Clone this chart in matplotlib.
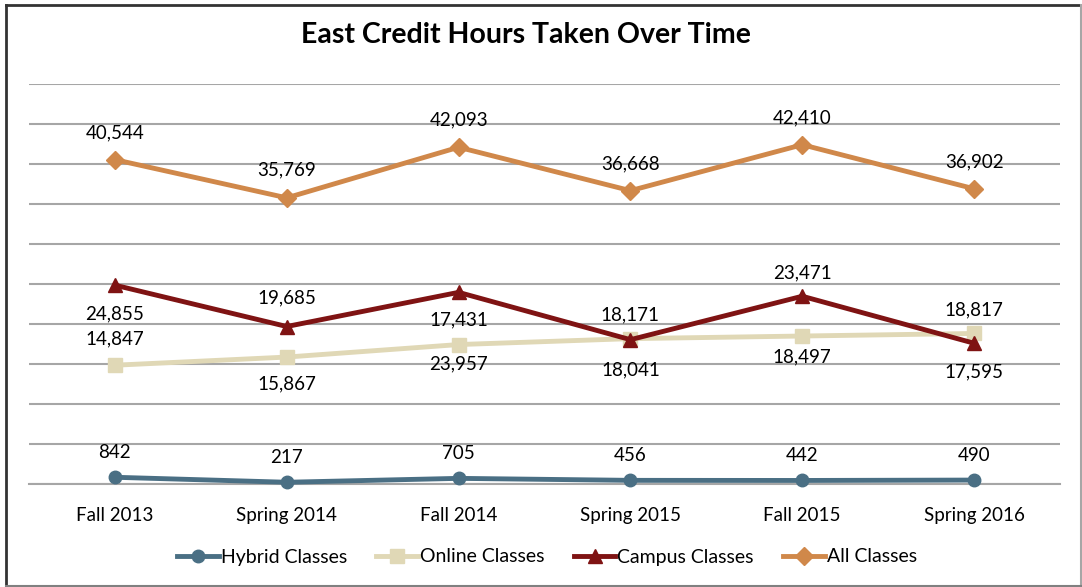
import matplotlib
matplotlib.use("Agg")
import matplotlib.pyplot as plt
from matplotlib.lines import Line2D

categories = ["Fall 2013", "Spring 2014", "Fall 2014", "Spring 2015", "Fall 2015", "Spring 2016"]
hybrid = [842, 217, 705, 456, 442, 490]
online = [14847, 15867, 17431, 18171, 18497, 18817]
campus = [24855, 19685, 23957, 18041, 23471, 17595]
all_classes = [40544, 35769, 42093, 36668, 42410, 36902]

# label offsets in pixels (vertical)
off_hybrid = [25, 25, 25, 25, 25, 25]
off_online = [26, -27, 25, 24, -21, 24]
off_campus = [-29, 29, -72, -30, 23, -29]
off_all = [27, 28, 27, 27, 27, 27]

W, H = 1082, 587
fig = plt.figure(figsize=(W / 100, H / 100), dpi=100)
FONT = "Lato"
plt.rcParams['font.family'] = [FONT, 'DejaVu Sans']

left, right = 29 / W, 1060 / W
bottom, top = 1 - 484 / H, 1 - 84 / H
ax = fig.add_axes([left, bottom, right - left, top - bottom])
x = list(range(len(categories)))

ax.set_xlim(-0.5, 5.5)
ax.set_ylim(0, 50000)
ax.set_yticks(range(0, 50001, 5000))
ax.yaxis.grid(True, color="#a6a6a6", linewidth=1.5)
ax.set_axisbelow(True)
for s in ["left", "right", "top"]:
    ax.spines[s].set_visible(False)
ax.spines["bottom"].set_color("#a6a6a6")
ax.spines["bottom"].set_linewidth(1.5)
ax.tick_params(axis="y", left=False, labelleft=False)
ax.tick_params(axis="x", bottom=False, pad=13, labelsize=13.5, labelcolor="#000000")
ax.set_xticks(x)
ax.set_xticklabels(categories)

series = [
    ("Hybrid Classes", hybrid, "#4a6f84", "o", off_hybrid, 9),
    ("Online Classes", online, "#e0d8b6", "s", off_online, 10),
    ("Campus Classes", campus, "#7f1313", "^", off_campus, 10),
    ("All Classes", all_classes, "#d0884a", "D", off_all, 9),
]
handles = []
for name, vals, col, mk, offs, ms in series:
    ax.plot(x, vals, color=col, linewidth=3.5, marker=mk, markersize=ms,
            markerfacecolor=col, markeredgecolor=col, zorder=3, clip_on=False)
    handles.append(Line2D([0], [0], color=col, linewidth=3.5, marker=mk, markersize=ms,
                          markerfacecolor=col, markeredgecolor=col, label=name))
    for xi, v, o in zip(x, vals, offs):
        ax.annotate(f"{v:,}", (xi, v), xytext=(0, o), textcoords="offset pixels",
                    ha="center", va="center", fontsize=13.5, color="#000000", zorder=5)

fig.text(526 / W, 1 - 35 / H, "East Credit Hours Taken Over Time", ha="center", va="center",
         fontsize=20.5, fontweight="bold", color="#000000")

fig.legend(handles=handles, loc="center", bbox_to_anchor=(547 / W, 1 - 557 / H), ncol=4,
           frameon=False, fontsize=14, handlelength=2.15, handletextpad=0.1,
           columnspacing=1.5)

# frame
fig.add_artist(Line2D([6 / W, 1081 / W], [1 - 5 / H, 1 - 5 / H], color="#333333", linewidth=2, transform=fig.transFigure))
fig.add_artist(Line2D([6 / W, 6 / W], [1 - 5 / H, 1 - 586 / H], color="#333333", linewidth=2, transform=fig.transFigure))
fig.add_artist(Line2D([1081 / W, 1081 / W], [1 - 5 / H, 1 - 586 / H], color="#a6a6a6", linewidth=1.5, transform=fig.transFigure))
fig.add_artist(Line2D([6 / W, 1081 / W], [1 - 586 / H, 1 - 586 / H], color="#808080", linewidth=1.5, transform=fig.transFigure))

fig.savefig("out.png", dpi=100)
